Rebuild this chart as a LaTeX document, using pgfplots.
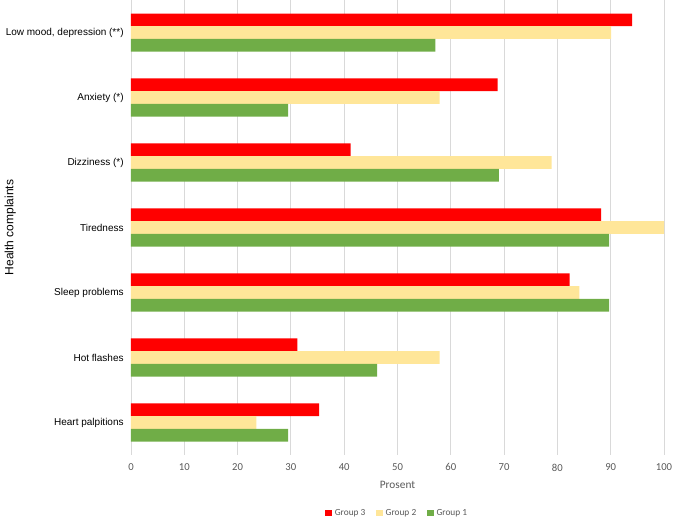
\documentclass[border=0pt]{standalone}
\usepackage{fontspec}
\setmainfont{Liberation Sans}
\newfontfamily\calfont{Carlito}
\usepackage{pgfplots}
\pgfplotsset{compat=1.18}
\definecolor{gthree}{HTML}{FF0000}
\definecolor{gtwo}{HTML}{FFE699}
\definecolor{gone}{HTML}{70AD47}
\definecolor{tickgray}{HTML}{595959}
\definecolor{gridgray}{HTML}{D9D9D9}
\begin{document}
\begin{tikzpicture}[x=0.75pt,y=0.75pt]
\path[use as bounding box] (-131,-70) rectangle (544,455);
\begin{axis}[
  at={(0,0)}, anchor=south west,
  scale only axis,
  width=399.75pt, height=341.25pt,
  xbar=0pt, bar width=0.195,
  xmin=0, xmax=100,
  ymin=-0.5, ymax=6.5,
  y dir=reverse,
  ytick={0,...,6},
  yticklabels={{Low mood, depression (**)},{Anxiety (*)},{Dizziness (*)},Tiredness,{Sleep problems},{Hot flashes},{Heart palpitions}},
  yticklabel style={font=\fontsize{7.5}{9}\selectfont, text=black, xshift=-2pt},
  xtick={0,10,...,100},
  xticklabel style={font=\calfont\fontsize{8}{9}\selectfont, text=tickgray, yshift=-3pt},
  /pgf/number format/assume math mode=true,
  axis line style={draw=none},
  major tick length=0pt,
  xmajorgrids, grid style={gridgray, line width=0.6pt},
  xlabel={\calfont Prosent},
  every axis x label/.style={at={(rel axis cs:0.5,0)}, anchor=center, yshift=-22.5pt,
    font=\fontsize{8.5}{10}\selectfont, text=tickgray},
  ylabel={Health complaints},
  every axis y label/.style={at={(rel axis cs:0,0.5)}, anchor=center, rotate=90, yshift=90.5pt,
    font=\fontsize{9}{11}\selectfont},
  legend style={at={(0.5,-0.1275)}, anchor=center, draw=none, legend columns=-1,
    font=\calfont\fontsize{7}{8}\selectfont, text=tickgray,
    /tikz/every even column/.append style={column sep=6pt}},
  legend image code/.code={\fill[#1] (0pt,-2.6pt) rectangle (5.2pt,2.6pt);},
]
\addplot[draw=none, fill=gthree] coordinates {(94.0,0) (68.8,1) (41.2,2) (88.2,3) (82.3,4) (31.2,5) (35.3,6)};
\addplot[draw=none, fill=gtwo] coordinates {(90.1,0) (57.9,1) (78.9,2) (100,3) (84.1,4) (57.9,5) (23.5,6)};
\addplot[draw=none, fill=gone] coordinates {(57.1,0) (29.5,1) (69.0,2) (89.7,3) (89.7,4) (46.2,5) (29.5,6)};
\legend{Group 3, Group 2, Group 1}
\end{axis}
\end{tikzpicture}
\end{document}
